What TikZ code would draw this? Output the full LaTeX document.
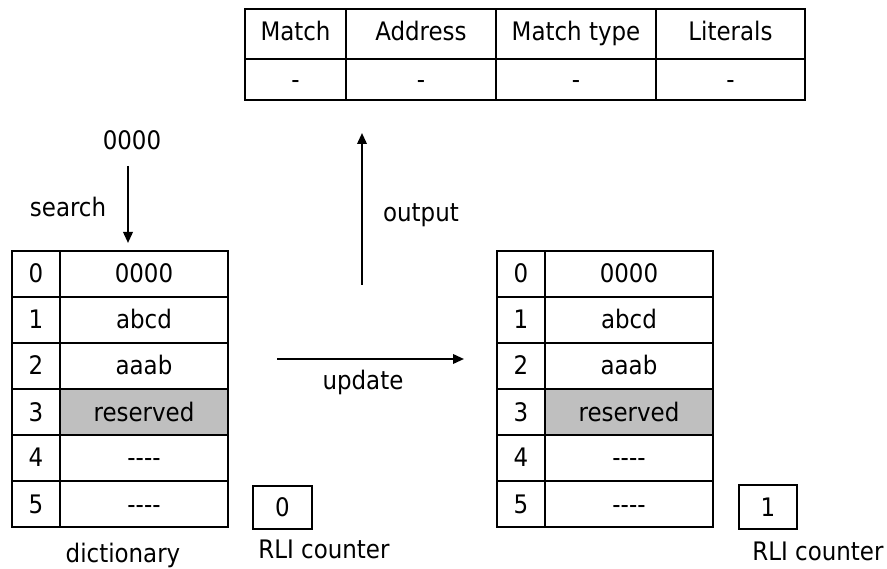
\documentclass[tikz,border=0pt]{standalone}
\usepackage{fontspec}
\setmainfont{DejaVu Sans Condensed}
\usetikzlibrary{arrows.meta}
\newcommand{\dashes}{\mbox{-}\mbox{-}\mbox{-}\mbox{-}}
\begin{document}
\begin{tikzpicture}[x=1pt,y=-1pt,
  txt/.style={font=\fontsize{25.5}{28}\selectfont},
  cell/.style={draw, line width=1.5pt, inner sep=0pt, anchor=center, txt,
               minimum height=46pt, text height=18pt, text depth=0pt},
  idx/.style={cell, minimum width=48pt},
  val/.style={cell, minimum width=168pt},
  hdr/.style={cell, minimum height=50pt, text depth=4pt},
  dat/.style={cell, minimum height=41pt},
  lbl/.style={inner sep=0pt, txt},
  arr/.style={-{Triangle[length=11pt,width=9.5pt]}, line width=2pt}]
\useasboundingbox (0,0) rectangle (887,569);

% top output table
\node[hdr, minimum width=101pt] (h1) at (295.5,34) {Match};
\node[hdr, minimum width=150pt] (h2) at (421,34) {Address};
\node[hdr, minimum width=160pt] (h3) at (576,34) {Match type};
\node[hdr, minimum width=149pt] (h4) at (730.5,34) {Literals};
\node[dat, minimum width=101pt] (d1) at (295.5,79.5) {-};
\node[dat, minimum width=150pt] (d2) at (421,79.5) {-};
\node[dat, minimum width=160pt] (d3) at (576,79.5) {-};
\node[dat, minimum width=149pt] (d4) at (730.5,79.5) {-};

% left dictionary
\foreach \i/\v in {0/0000,1/abcd,2/aaab,4/\dashes,5/\dashes}{
  \node[idx] (Li\i) at (36,274+46*\i) {\i};
  \node[val] (Lv\i) at (144,274+46*\i) {\v};
}
\node[idx] (Li3) at (36,412) {3};
\node[val, fill=black!25] (Lv3) at (144,412) {reserved};

% right dictionary
\foreach \i/\v in {0/0000,1/abcd,2/aaab,4/\dashes,5/\dashes}{
  \node[idx] (Ri\i) at (521,274+46*\i) {\i};
  \node[val] (Rv\i) at (629,274+46*\i) {\v};
}
\node[idx] (Ri3) at (521,412) {3};
\node[val, fill=black!25] (Rv3) at (629,412) {reserved};

% RLI counters
\node[cell, minimum width=59pt, minimum height=43pt] (rli0) at (282.5,507.5) {0};
\node[cell, minimum width=58pt, minimum height=44pt] (rli1) at (768,507) {1};

% labels
\node[lbl] (inp) at (132,140) {0000};
\node[lbl] (search) at (68,207) {search};
\node[lbl] (dict) at (123,555) {dictionary};
\node[lbl] (rlil) at (324,549) {RLI counter};
\node[lbl] (rlir) at (818,551) {RLI counter};
\node[lbl] (outl) at (421,215) {output};
\node[lbl] (updl) at (363,382) {update};

% arrows
\coordinate (s0) at (128,166);
\coordinate (s1) at (128,243);
\coordinate (o0) at (362,285);
\coordinate (o1) at (362,133);
\coordinate (u0) at (277,359);
\coordinate (u1) at (464,359);
\draw[arr] (s0) -- (s1);
\draw[arr] (o0) -- (o1);
\draw[arr] (u0) -- (u1);
\end{tikzpicture}
\end{document}
